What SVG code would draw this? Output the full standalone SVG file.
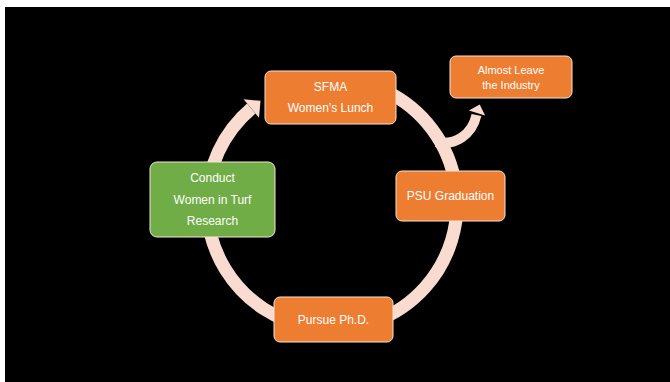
<svg xmlns="http://www.w3.org/2000/svg" width="670" height="382" viewBox="0 0 670 382">
  <style>
    .box { stroke: #F6E4DA; stroke-width: 1; }
    .orange { fill: #ED7D31; }
    .green { fill: #70AD47; }
    .lbl { font-family: "Liberation Sans", Arial, sans-serif; font-size: 12px; fill: #FFFFFF; text-anchor: middle; }
    .small { font-size: 11px; }
    .ring { fill: none; stroke: #F9DBD0; }
    .head { fill: #F9DBD0; }
  </style>

  <!-- page and slide background -->
  <rect x="0" y="0" width="670" height="382" fill="#FFFFFF"/>
  <rect x="5" y="7" width="665" height="375" fill="#000000"/>

  <!-- cycle ring, side branch and arrowheads -->
  <g id="connectors">
    <path class="ring" stroke-width="13" d="M 332 79 A 125 125 0 1 1 251.3 108.5"/>
    <polygon class="head" points="243.6,99.3 260.5,100.8 259,117.7"/>
    <path class="ring" stroke-width="10" d="M 436 142 C 455 146, 472 135, 476.5 115"/>
    <polygon class="head" points="468.9,110.5 479.7,104.5 485.1,115.6"/>
  </g>

  <g id="node-sfma">
    <rect class="box orange" x="265" y="71" width="131" height="53" rx="6"/>
    <text class="lbl" x="330.5" y="91">SFMA</text>
    <text class="lbl" x="330.5" y="112">Women’s Lunch</text>
  </g>

  <g id="node-leave">
    <rect class="box orange" x="450" y="56" width="122" height="42" rx="6"/>
    <text class="lbl small" x="511" y="74">Almost Leave</text>
    <text class="lbl small" x="511" y="89">the Industry</text>
  </g>

  <g id="node-psu">
    <rect class="box orange" x="396" y="171" width="109" height="50" rx="6"/>
    <text class="lbl" x="450.5" y="200">PSU Graduation</text>
  </g>

  <g id="node-phd">
    <rect class="box orange" x="274" y="297" width="119" height="45" rx="6"/>
    <text class="lbl" x="333.5" y="323.5">Pursue Ph.D.</text>
  </g>

  <g id="node-research">
    <rect class="box green" x="150" y="162" width="125" height="75" rx="7"/>
    <text class="lbl" x="212.5" y="182">Conduct</text>
    <text class="lbl" x="212.5" y="203.5">Women in Turf</text>
    <text class="lbl" x="212.5" y="224.5">Research</text>
  </g>
</svg>
